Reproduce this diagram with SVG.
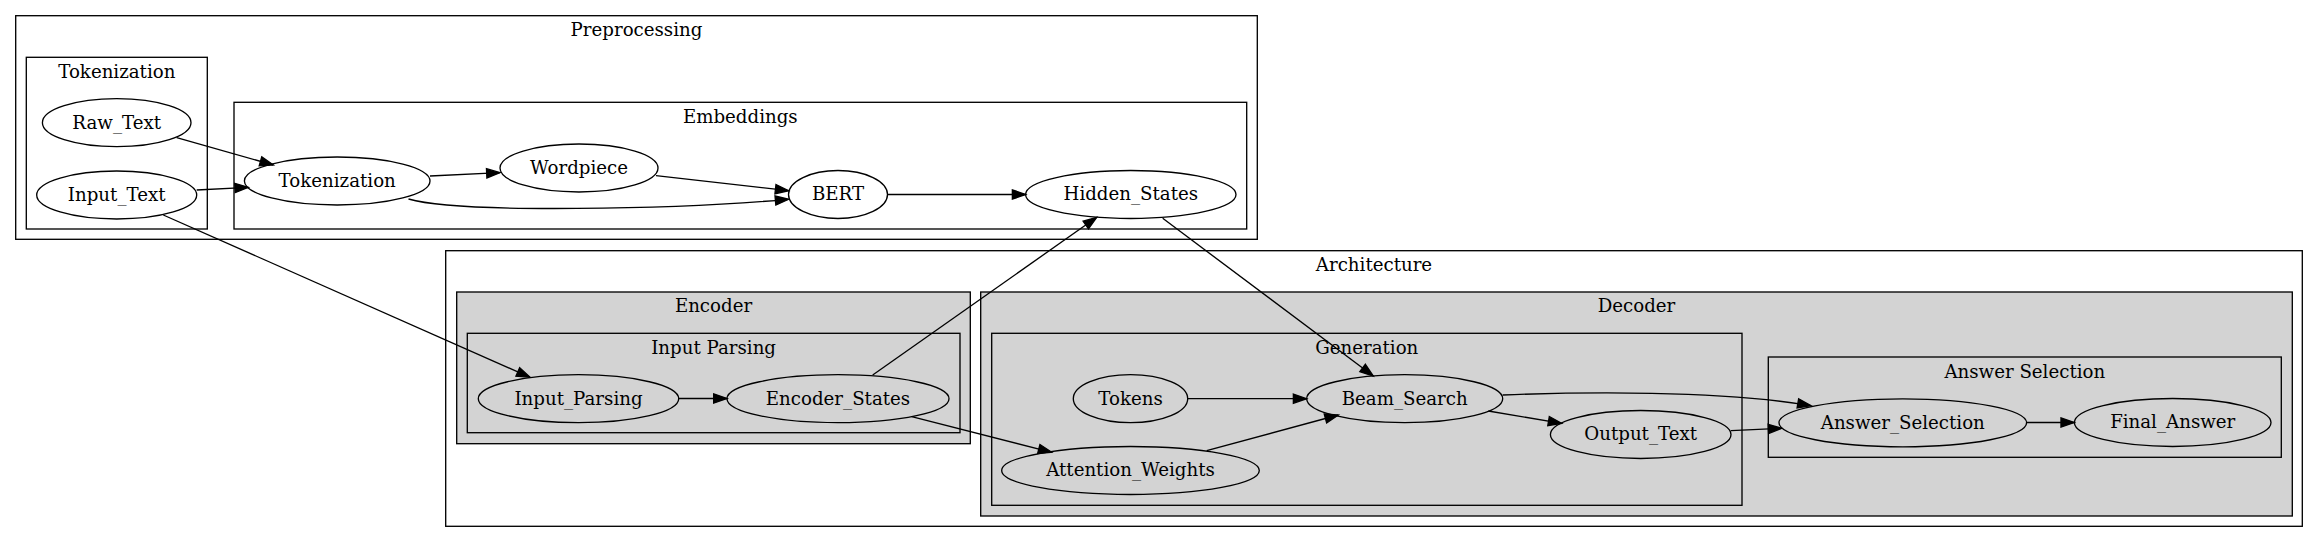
<svg xmlns="http://www.w3.org/2000/svg" width="2319" height="543" viewBox="0 0 2319 543">
<style>
  .cl { fill: none; stroke: #000; stroke-width: 1.33; }
  .clg { fill: #d3d3d3; stroke: #000; stroke-width: 1.33; }
  .nd { fill: none; stroke: #000; stroke-width: 1.33; }
  .ed { fill: none; stroke: #000; stroke-width: 1.33; marker-end: url(#arr); }
  text { font-family: "DejaVu Serif", "Liberation Serif", serif; font-size: 18.2px; fill: #000; text-anchor: middle; }
</style>
<defs>
  <marker id="arr" markerUnits="userSpaceOnUse" markerWidth="14" markerHeight="10" refX="13.33" refY="4.67" orient="auto" overflow="visible">
    <path d="M0,0 L13.33,4.67 L0,9.33 Z" fill="#000" stroke="#000" stroke-width="1.33"/>
  </marker>
</defs>
<rect width="2319" height="543" fill="#fff"/>

<g id="clusters">
  <g id="cluster_preprocessing">
    <rect class="cl" x="15.7" y="15.7" width="1241.6" height="223.6"/>
    <text x="636.5" y="35.5">Preprocessing</text>
  </g>
  <g id="cluster_tokenization">
    <rect class="cl" x="26.3" y="57.3" width="181" height="171.7"/>
    <text x="116.8" y="78">Tokenization</text>
  </g>
  <g id="cluster_embeddings">
    <rect class="cl" x="234" y="102.3" width="1012.7" height="126.7"/>
    <text x="740.3" y="122.5">Embeddings</text>
  </g>
  <g id="cluster_architecture">
    <rect class="cl" x="445.7" y="250.7" width="1856.6" height="275.6"/>
    <text x="1374" y="270.5">Architecture</text>
  </g>
  <g id="cluster_encoder">
    <rect class="clg" x="456.7" y="292" width="513.6" height="151.7"/>
    <text x="713.5" y="312">Encoder</text>
  </g>
  <g id="cluster_input_parsing">
    <rect class="clg" x="467.3" y="333.3" width="492.7" height="99.4"/>
    <text x="713.6" y="354">Input Parsing</text>
  </g>
  <g id="cluster_decoder">
    <rect class="clg" x="980.7" y="292" width="1311.6" height="224"/>
    <text x="1636.5" y="312">Decoder</text>
  </g>
  <g id="cluster_generation">
    <rect class="clg" x="991.7" y="333.3" width="750.3" height="172"/>
    <text x="1366.8" y="354">Generation</text>
  </g>
  <g id="cluster_answer_selection">
    <rect class="clg" x="1768.3" y="357" width="513" height="100.3"/>
    <text x="2024.8" y="378">Answer Selection</text>
  </g>
</g>

<g id="node_Raw_Text"><ellipse class="nd" cx="116.7" cy="122.7" rx="74.3" ry="24"/><text x="116.7" y="128.5">Raw_Text</text></g>
<g id="node_Input_Text"><ellipse class="nd" cx="116.7" cy="195" rx="80" ry="24"/><text x="116.7" y="200.8">Input_Text</text></g>
<g id="node_Tokenization"><ellipse class="nd" cx="337.2" cy="181" rx="92.8" ry="24"/><text x="337.2" y="186.8">Tokenization</text></g>
<g id="node_Wordpiece"><ellipse class="nd" cx="579" cy="168" rx="79" ry="24"/><text x="579" y="173.8">Wordpiece</text></g>
<g id="node_BERT"><ellipse class="nd" cx="838" cy="194.5" rx="49.5" ry="24"/><text x="838" y="200.3">BERT</text></g>
<g id="node_Hidden_States"><ellipse class="nd" cx="1130.8" cy="194.5" rx="105.2" ry="24"/><text x="1130.8" y="200.3">Hidden_States</text></g>
<g id="node_Input_Parsing"><ellipse class="nd" cx="578.5" cy="398.7" rx="100.2" ry="24"/><text x="578.5" y="404.5">Input_Parsing</text></g>
<g id="node_Encoder_States"><ellipse class="nd" cx="838" cy="398.7" rx="111" ry="24"/><text x="838" y="404.5">Encoder_States</text></g>
<g id="node_Tokens"><ellipse class="nd" cx="1130.5" cy="398.7" rx="57.2" ry="24"/><text x="1130.5" y="404.5">Tokens</text></g>
<g id="node_Attention_Weights"><ellipse class="nd" cx="1130.5" cy="470.5" rx="128.8" ry="24"/><text x="1130.5" y="476.3">Attention_Weights</text></g>
<g id="node_Beam_Search"><ellipse class="nd" cx="1404.7" cy="398.7" rx="98" ry="24"/><text x="1404.7" y="404.5">Beam_Search</text></g>
<g id="node_Output_Text"><ellipse class="nd" cx="1640.7" cy="434.5" rx="90.3" ry="24"/><text x="1640.7" y="440.3">Output_Text</text></g>
<g id="node_Answer_Selection"><ellipse class="nd" cx="1902.8" cy="422.8" rx="123.8" ry="24"/><text x="1902.8" y="428.6">Answer_Selection</text></g>
<g id="node_Final_Answer"><ellipse class="nd" cx="2172.7" cy="422.5" rx="98.3" ry="24"/><text x="2172.7" y="428.3">Final_Answer</text></g>

<g id="edges">
  <path class="ed" d="M176.7,137.7 L273.3,165"/>
  <path class="ed" d="M196.7,190 L248.3,187.3"/>
  <path class="ed" d="M430,176 L500,172.7"/>
  <path class="ed" d="M408.5,199 C460,214 680,209 788.7,199.3"/>
  <path class="ed" d="M656,175.7 L788.7,190.7"/>
  <path class="ed" d="M887.7,194.5 L1025.7,194.5"/>
  <path class="ed" d="M163.3,215 L530,377.3"/>
  <path class="ed" d="M872.7,375 L1096.7,217.3"/>
  <path class="ed" d="M1162.7,218.3 L1373.3,376"/>
  <path class="ed" d="M911.7,416.7 L1051.7,452.3"/>
  <path class="ed" d="M678.7,398.5 L727,398.5"/>
  <path class="ed" d="M1187.7,398.7 L1306.7,398.7"/>
  <path class="ed" d="M1206.7,450.7 L1338.3,415"/>
  <path class="ed" d="M1488.3,411 L1561.7,423.3"/>
  <path class="ed" d="M1502.7,395 C1580,392 1720,390 1811,405.7"/>
  <path class="ed" d="M1731,430.7 L1781.7,428.3"/>
  <path class="ed" d="M2026.7,422.5 L2074.3,422.5"/>
</g>
</svg>
